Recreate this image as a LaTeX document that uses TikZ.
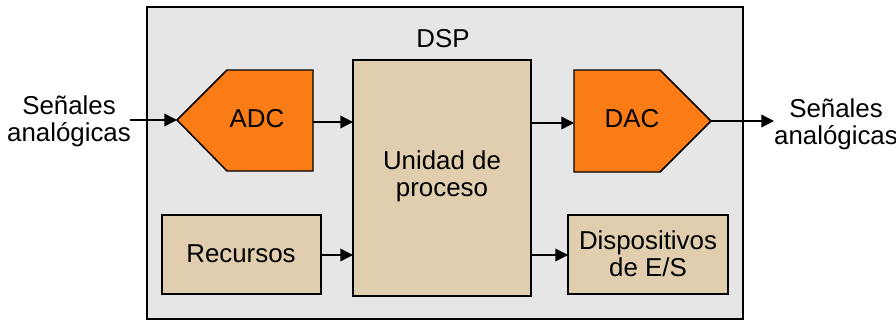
\documentclass[tikz,border=0pt]{standalone}
\usepackage{fontspec}
\setmainfont{Liberation Sans}
\usetikzlibrary{arrows.meta}
\definecolor{dspgray}{RGB}{230,230,230}
\definecolor{convorange}{RGB}{250,124,22}
\definecolor{blocktan}{RGB}{224,206,174}
\begin{document}
\begin{tikzpicture}[
    x=0.75pt, y=-0.75pt,
    font=\fontsize{19.4pt}{20.3pt}\selectfont,
    conv/.style={draw, line width=1.1pt, fill=convorange},
    block/.style={draw, line width=1.1pt, fill=blocktan},
    label/.style={align=center, inner sep=0pt},
    link/.style={-{Triangle[length=9.5pt,width=9.5pt]}, line width=1.1pt}
]
    \useasboundingbox (0,0) rectangle (896,322);

    % DSP frame
    \draw[line width=1.4pt, fill=dspgray] (147,7) rectangle (743,319);
    \node[label] (dsp) at (443,39) {DSP};

    % Converters
    \draw[conv] (177,120) -- (227,70) -- (313,70) -- (313,171) -- (227,171) -- cycle;
    \node[label] (adc) at (257,119) {ADC};
    \coordinate (adcin) at (177,120);
    \coordinate (adcout) at (313,122);
    \draw[conv] (711,121) -- (660,70) -- (574,70) -- (574,172) -- (660,172) -- cycle;
    \node[label] (dac) at (632,119) {DAC};
    \coordinate (dacin) at (574,123);
    \coordinate (dacout) at (711,121);

    % Blocks
    \draw[block] (353,60) rectangle (531,296);
    \node[label] (cpu) at (442,176) {Unidad de\\proceso};
    \draw[block] (162,215) rectangle (321,294);
    \node[label] (rec) at (241,254) {Recursos};
    \draw[block] (568,215) rectangle (728,294);
    \node[label] (io) at (648,254) {Dispositivos\\de E/S};
    \coordinate (cpuin1) at (353,122);
    \coordinate (cpuout1) at (531,123);
    \coordinate (cpuin2) at (353,255);
    \coordinate (cpuout2) at (531,255);
    \coordinate (recout) at (321,255);
    \coordinate (ioin) at (568,255);

    % Signals
    \node[label] (sigin) at (69,121) {Señales\\analógicas};
    \node[label] (sigout) at (836,124) {Señales\\analógicas};
    \coordinate (sigstart) at (130,120);
    \coordinate (sigend) at (774,121);

    % Connections
    \draw[link] (sigstart) -- (adcin);
    \draw[link] (adcout) -- (cpuin1);
    \draw[link] (cpuout1) -- (dacin);
    \draw[link] (dacout) -- (sigend);
    \draw[link] (recout) -- (cpuin2);
    \draw[link] (cpuout2) -- (ioin);
\end{tikzpicture}
\end{document}
